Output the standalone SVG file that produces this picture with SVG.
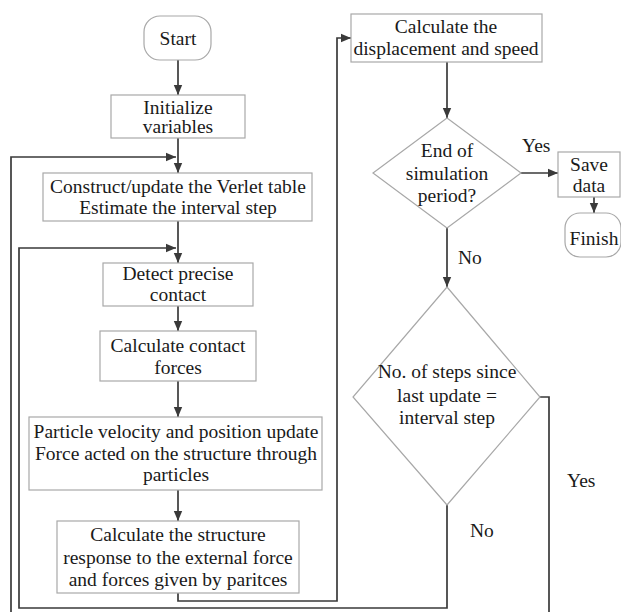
<svg xmlns="http://www.w3.org/2000/svg" width="621" height="612" viewBox="0 0 621 612">
<style>
.box{fill:#fff;stroke:#a8a8a8;stroke-width:1.2}
.t{font-family:"Liberation Serif","Times New Roman",serif;font-size:19.5px;fill:#1a1a1a;text-anchor:middle}
.lbl{font-family:"Liberation Serif","Times New Roman",serif;font-size:19.5px;fill:#1a1a1a}
.c{fill:none;stroke:#3a3a3a;stroke-width:1.7}
</style>
<defs>
<marker id="ah" markerUnits="userSpaceOnUse" markerWidth="10" markerHeight="10" viewBox="0 0 10 10" refX="10" refY="5" orient="auto">
<path d="M0,0.8 L10,5 L0,9.2 Z" fill="#3a3a3a"/>
</marker>
</defs>
<rect width="621" height="612" fill="#fff"/>
<g id="connectors">
<path class="c" d="M178,60 V95" marker-end="url(#ah)"/>
<path class="c" d="M178,138 V173" marker-end="url(#ah)"/>
<path class="c" d="M178,221 V263" marker-end="url(#ah)"/>
<path class="c" d="M178,305 V331" marker-end="url(#ah)"/>
<path class="c" d="M178,381 V417" marker-end="url(#ah)"/>
<path class="c" d="M178,490 V521" marker-end="url(#ah)"/>
<path class="c" d="M178,593 V601 H337 V38 H351" marker-end="url(#ah)"/>
<path class="c" d="M447,62 V118" marker-end="url(#ah)"/>
<path class="c" d="M521,173 H558" marker-end="url(#ah)"/>
<path class="c" d="M594,197 V213" marker-end="url(#ah)"/>
<path class="c" d="M447,228 V287" marker-end="url(#ah)"/>
<path class="c" d="M447,505 V608 H19 V248 H176" marker-end="url(#ah)"/>
<path class="c" d="M540,397 H549 V618 H11 V157 H176" marker-end="url(#ah)"/>
</g>
<g id="start">
<rect class="box" x="144" y="16" width="67" height="44" rx="16"/>
<text class="t" x="178" y="45">Start</text>
</g>
<g id="init">
<rect class="box" x="111" y="95" width="134" height="43"/>
<text class="t" x="178" y="114">Initialize</text>
<text class="t" x="178" y="133">variables</text>
</g>
<g id="verlet">
<rect class="box" x="43" y="173" width="269" height="48"/>
<text class="t" x="178" y="193">Construct/update the Verlet table</text>
<text class="t" x="178" y="214">Estimate the interval step</text>
</g>
<g id="detect">
<rect class="box" x="103" y="263" width="150" height="43"/>
<text class="t" x="178" y="280">Detect precise</text>
<text class="t" x="178" y="301">contact</text>
</g>
<g id="contactforces">
<rect class="box" x="100" y="331" width="156" height="50"/>
<text class="t" x="178" y="352">Calculate contact</text>
<text class="t" x="178" y="374">forces</text>
</g>
<g id="particle">
<rect class="box" x="29" y="417" width="293" height="73"/>
<text class="t" x="176" y="438">Particle velocity and position update</text>
<text class="t" x="176" y="460">Force acted on the structure through</text>
<text class="t" x="176" y="481">particles</text>
</g>
<g id="structure">
<rect class="box" x="57" y="521" width="242" height="72"/>
<text class="t" x="178" y="541">Calculate the structure</text>
<text class="t" x="178" y="564">response to the external force</text>
<text class="t" x="178" y="586">and forces given by paritces</text>
</g>
<g id="displacement">
<rect class="box" x="351" y="14" width="191" height="48"/>
<text class="t" x="446" y="33">Calculate the</text>
<text class="t" x="446" y="55">displacement and speed</text>
</g>
<g id="endsim">
<polygon class="box" points="447,118 521,173 447,228 373,173"/>
<text class="t" x="447" y="157">End of</text>
<text class="t" x="447" y="180">simulation</text>
<text class="t" x="447" y="202">period?</text>
</g>
<g id="save">
<rect class="box" x="558" y="152" width="62" height="45"/>
<text class="t" x="589" y="171">Save</text>
<text class="t" x="589" y="192">data</text>
</g>
<g id="finish">
<rect class="box" x="565" y="213" width="56" height="44" rx="15"/>
<text class="t" x="594" y="245">Finish</text>
</g>
<g id="steps">
<polygon class="box" points="447,287 540,397 447,505 353,397"/>
<text class="t" x="447" y="378">No. of steps since</text>
<text class="t" x="447" y="402">last update =</text>
<text class="t" x="447" y="424">interval step</text>
</g>
<g id="labels">
<text class="lbl" x="522" y="152">Yes</text>
<text class="lbl" x="458" y="264">No</text>
<text class="lbl" x="567" y="487">Yes</text>
<text class="lbl" x="470" y="537">No</text>
</g>
</svg>
